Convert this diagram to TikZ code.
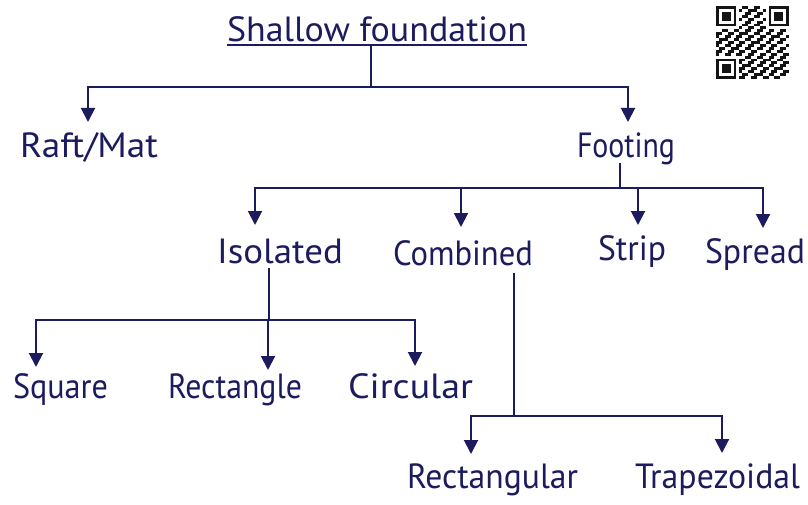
\documentclass[tikz,border=0pt]{standalone}
\usepackage{graphicx}
\usepackage{fontspec}
\setmainfont{PT Sans}
\usetikzlibrary{arrows.meta}

\definecolor{ink}{RGB}{27,27,94}
\definecolor{qrdark}{RGB}{20,20,20}
% stretch a label horizontally to a given width, keeping its height
\newcommand\hw[2]{\resizebox{#1pt}{\height}{#2}}

\tikzset{
  lbl/.style={text=ink, font=\fontsize{35}{38}\selectfont, inner sep=0pt, outer sep=0pt, anchor=base west},
  wire/.style={draw=ink, line width=2pt},
  arr/.style={wire, -{Triangle[width=14pt,length=14pt]}},
  qr/.style={fill=qrdark}
}

\begin{document}
\begin{tikzpicture}[x=1pt, y=-1pt]
\fill[white] (0,0) rectangle (808,505);
\useasboundingbox (0,0) rectangle (808,505);

% ---- labels ----
\node[lbl] (title)  at (227,42)  {\hw{300}{Shallow foundation}};
\node[lbl] (raft)   at (20,158)  {\hw{138}{Raft/Mat}};
\node[lbl] (foot)   at (577,158) {\hw{98}{Footing}};
\node[lbl] (iso)    at (217,263) {\hw{126}{Isolated}};
\node[lbl] (comb)   at (393,265) {\hw{140}{Combined}};
\node[lbl] (strip)  at (598,260) {\hw{68}{Strip}};
\node[lbl] (spread) at (705,263) {\hw{100}{Spread}};
\node[lbl] (square) at (13,398)  {\hw{95}{Square}};
\node[lbl] (rect)   at (168,398) {\hw{134}{Rectangle}};
\node[lbl] (circ)   at (348,398) {\hw{125}{Circular}};
\node[lbl] (rectg)  at (407,488) {\hw{171}{Rectangular}};
\node[lbl] (trap)   at (635,488) {\hw{165}{Trapezoidal}};

% title underline
\coordinate (ulL) at ([yshift=-3pt]title.base west);
\coordinate (ulR) at ([yshift=-3pt]title.base east);
\draw[wire] (ulL) -- (ulR);

% ---- junctions and arrow tips ----
\coordinate (j1) at (371,87);
\coordinate (j2) at (620,188);
\coordinate (j3) at (269,320);
\coordinate (j4) at (514,416);

\coordinate (t-raft)   at (88,122);
\coordinate (t-foot)   at (628,122);
\coordinate (t-iso)    at (255,225);
\coordinate (t-comb)   at (461,227);
\coordinate (t-strip)  at (638,225);
\coordinate (t-spread) at (763,228);
\coordinate (t-square) at (36,367);
\coordinate (t-rect)   at (268,370);
\coordinate (t-circ)   at (415,366);
\coordinate (t-rectg)  at (471,454);
\coordinate (t-trap)   at (722,453);

% ---- level 1 ----
\draw[wire] (ulL -| j1) -- (j1);
\draw[arr] (j1) -| (t-raft);
\draw[arr] (j1) -| (t-foot);

% ---- footing types ----
\draw[wire] (j2 |- foot.base) ++(0,5) -- (j2);
\draw[arr] (j2) -| (t-iso);
\draw[arr] (j2) -| (t-spread);
\draw[arr] (t-comb |- j2) -- (t-comb);
\draw[arr] (t-strip |- j2) -- (t-strip);

% ---- isolated footing shapes ----
\draw[wire] (j3 |- iso.base) ++(0,5) -- (j3);
\draw[arr] (j3) -| (t-square);
\draw[arr] (j3) -| (t-circ);
\draw[arr] (j3 -| t-rect) -- (t-rect);

% ---- combined footing shapes ----
\draw[wire] (j4 |- comb.base) ++(0,8) -- (j4);
\draw[arr] (j4) -| (t-rectg);
\draw[arr] (j4) -| (t-trap);

% ---- QR code ----
\def\qs{2.92}
\begin{scope}[shift={(716,6)}]
  \foreach \i in {0,...,24}{
    \foreach \j in {0,...,24}{
      \pgfmathsetseed{\i*37+\j*11+5}
      \pgfmathparse{int(and(rnd<0.5, not(or(and(\i<8,\j<8), or(and(\i>16,\j<8), and(\i<8,\j>16))))))}
      \ifnum\pgfmathresult=1
        \fill[qr] ({\i*\qs},{\j*\qs}) rectangle ++(\qs,\qs);
      \fi
    }
  }
  \foreach \ox/\oy in {0/0, 18/0, 0/18}{
    \fill[qr] ({\ox*\qs},{\oy*\qs}) rectangle ++({7*\qs},{7*\qs});
    \fill[white] ({(\ox+1)*\qs},{(\oy+1)*\qs}) rectangle ++({5*\qs},{5*\qs});
    \fill[qr] ({(\ox+2)*\qs},{(\oy+2)*\qs}) rectangle ++({3*\qs},{3*\qs});
  }
\end{scope}
\end{tikzpicture}
\end{document}
